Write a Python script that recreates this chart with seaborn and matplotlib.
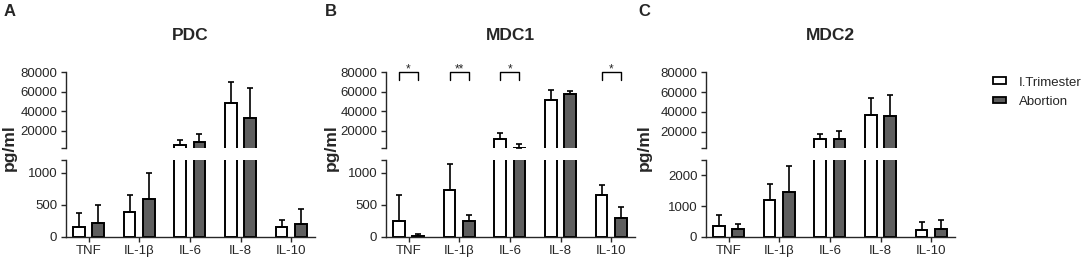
import numpy as np
import pandas as pd
import seaborn as sns
import matplotlib.pyplot as plt
from matplotlib.patches import Patch

# Daten (pg/ml), Mittelwert und obere Fehlergrenze (nur nach oben)
cytokines = ['TNF', 'IL-1β', 'IL-6', 'IL-8', 'IL-10']
groups = ['I.Trimester', 'Abortion']
panel_titles = ['PDC', 'MDC1', 'MDC2']
panel_letters = ['A', 'B', 'C']

pdc_trim = [150, 380, 5400, 48000, 150]
pdc_trim_err = [220, 270, 4800, 22300, 115]
pdc_abort = [215, 590, 8100, 33600, 205]
pdc_abort_err = [275, 410, 9000, 30500, 225]

mdc1_trim = [245, 735, 12000, 51500, 650]
mdc1_trim_err = [415, 395, 5700, 10500, 165]
mdc1_abort = [15, 240, 2700, 57300, 300]
mdc1_abort_err = [35, 100, 3700, 3700, 170]

mdc2_trim = [335, 1180, 12300, 36900, 220]
mdc2_trim_err = [380, 540, 5400, 16800, 270]
mdc2_abort = [240, 1450, 12500, 35900, 260]
mdc2_abort_err = [180, 840, 8500, 20900, 280]

# Achsenbereiche: unterer Teil / oberer Teil der unterbrochenen y-Achse
lower_max = [1200, 1200, 2500]
lower_ticks = [[0, 500, 1000], [0, 500, 1000], [0, 1000, 2000]]
upper_min = [2000, 2000, 3000]
upper_ticks = [20000, 40000, 60000, 80000]

# Signifikanzen (nur MDC1)
mdc1_sig = {'TNF': '*', 'IL-1β': '**', 'IL-6': '*', 'IL-10': '*'}

panels = [
    (pdc_trim, pdc_trim_err, pdc_abort, pdc_abort_err, {}),
    (mdc1_trim, mdc1_trim_err, mdc1_abort, mdc1_abort_err, mdc1_sig),
    (mdc2_trim, mdc2_trim_err, mdc2_abort, mdc2_abort_err, {}),
]

sns.set_style('ticks')
plt.rcParams['font.family'] = ['Liberation Sans', 'DejaVu Sans']
plt.rcParams['axes.linewidth'] = 1.0

colors = ['white', '#5e5e5e']
W, H = 1084, 261


def fbox(l, t, r, b):
    return [l / W, 1 - b / H, (r - l) / W, (b - t) / H]


fig = plt.figure(figsize=(W / 100, H / 100), dpi=100)

lefts = [65.7, 385.7, 705.7]
label_x = [9.5, 331, 644]

for i, (trim, trim_err, abort, abort_err, sig) in enumerate(panels):
    df = pd.DataFrame({
        'Zytokin': cytokines * 2,
        'Gruppe': [groups[0]] * 5 + [groups[1]] * 5,
        'Wert': trim + abort,
    })
    L = lefts[i]
    ax_top = fig.add_axes(fbox(L, 72.3, L + 249.3, 148.3))
    ax_bot = fig.add_axes(fbox(L, 160, L + 249.3, 236.7))

    for ax, (lo, hi) in ((ax_top, (upper_min[i], 80000)), (ax_bot, (0, lower_max[i]))):
        sns.barplot(data=df, x='Zytokin', y='Wert', hue='Gruppe', order=cytokines,
                    hue_order=groups, palette=colors, saturation=1, edgecolor='black',
                    linewidth=1.4, width=0.76, gap=0.4, errorbar=None, legend=False, ax=ax)
        for cont, err in zip(ax.containers, [trim_err, abort_err]):
            for p, e in zip(cont, err):
                top = p.get_height() + e
                # nur Fehlerbalken, die in diesem Achsenabschnitt sichtbar sind
                if top < lo or p.get_height() > hi:
                    continue
                ax.errorbar(p.get_x() + p.get_width() / 2, p.get_height(),
                            yerr=[[0], [e]], fmt='none', ecolor='black',
                            elinewidth=1.2, capsize=2.3, capthick=1.2)
        ax.set_xlim(-0.45, 4.47)
        ax.set_ylim(lo, hi)
        ax.set_xlabel('')
        ax.set_ylabel('')
        sns.despine(ax=ax)
        ax.tick_params(axis='both', labelsize=9.5, width=1.0, length=3.5, pad=2.5)

    ax_top.set_yticks([upper_min[i]] + upper_ticks)
    ax_top.set_yticklabels([''] + [str(t) for t in upper_ticks])
    ax_top.spines['bottom'].set_visible(False)
    ax_top.tick_params(axis='x', bottom=False, labelbottom=False)

    ax_bot.set_yticks(lower_ticks[i] + [lower_max[i]])
    ax_bot.set_yticklabels([str(t) for t in lower_ticks[i]] + [''])
    ax_bot.set_xticks(range(len(cytokines)))
    ax_bot.set_xticklabels(cytokines)

    # Signifikanzklammern
    for name, star in sig.items():
        k = cytokines.index(name)
        x0 = ax_top.containers[0][k]
        x1 = ax_top.containers[1][k]
        xa = x0.get_x() + x0.get_width() / 2
        xb = x1.get_x() + x1.get_width() / 2
        ax_top.plot([xa, xa, xb, xb], [72000, 80000, 80000, 72000], color='black',
                    lw=1.0, clip_on=False)
        ax_top.text((xa + xb) / 2, 80300, star, ha='center', va='baseline', fontsize=8.5,
                    clip_on=False)

    cx = L + 249.3 / 2
    fig.text(cx / W, 1 - 36 / H, panel_titles[i], ha='center', va='center',
             fontsize=12.5, fontweight='bold')
    fig.text(label_x[i] / W, 1 - 11 / H, panel_letters[i], ha='center', va='center',
             fontsize=12, fontweight='bold')
    fig.text(label_x[i] / W, 1 - 148 / H, 'pg/ml', ha='center', va='center',
             rotation=90, fontsize=12.5, fontweight='bold')

handles = [Patch(facecolor=c, edgecolor='black', linewidth=1.3) for c in colors]
fig.legend(handles, groups, loc='upper left', bbox_to_anchor=(992.7 / W, 1 - 76.5 / H),
           frameon=False, fontsize=9.5, handlelength=1.0, handleheight=0.4,
           handletextpad=1.0, labelspacing=0.55, borderpad=0, borderaxespad=0)

fig.savefig('out.png', dpi=100)
